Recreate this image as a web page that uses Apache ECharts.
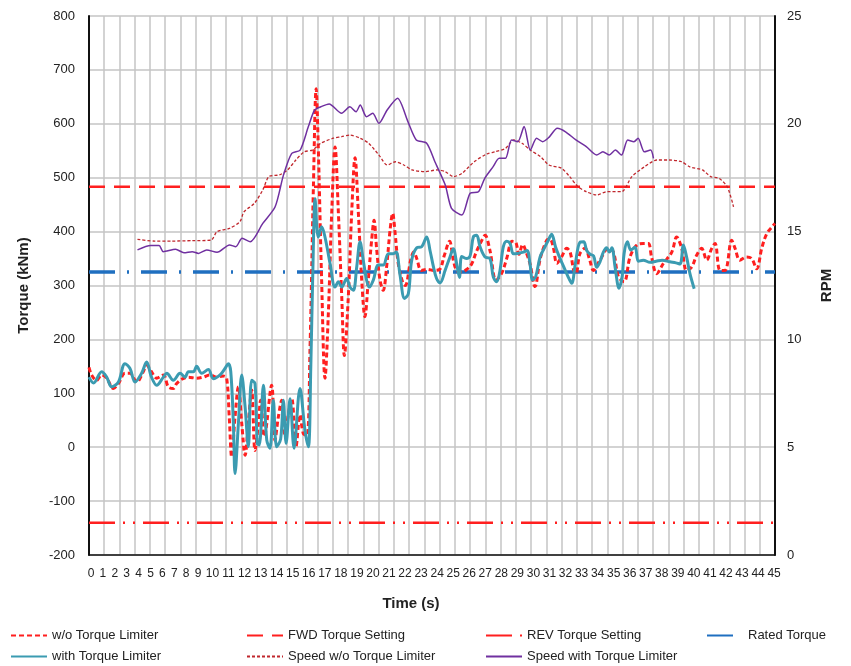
<!DOCTYPE html>
<html><head><meta charset="utf-8">
<script src="https://cdn.jsdelivr.net/npm/echarts@6/dist/echarts.min.js"></script>
<style>html,body{margin:0;padding:0;background:#fff}#c{width:851px;height:666px}</style>
</head><body><div id="c"></div>
<script>
// ---- data ----
const timeRange = [0, 45];
const fwdSetting = 483;
const revSetting = -140;
const ratedTorque = 325;

const woTime = [0,0.17,0.5,0.83,1.16,1.6,1.93,2.36,2.69,3.13,3.56,3.78,4.1,4.44,4.88,5.2,5.53,5.75,6.08,6.52,7.06,7.5,7.94,8.38,8.81,9.03,9.2,9.36,9.58,9.8,10.02,10.24,10.45,10.67,10.89,11.1,11.26,11.5,11.98,12.2,12.42,12.64,12.86,13.08,13.3,13.58,13.84,14.06,14.3,14.5,14.72,14.9,15.04,15.26,15.48,15.7,15.92,16.14,16.36,16.58,16.75,17.01,17.23,17.45,17.67,17.89,18.1,18.32,18.54,18.7,18.87,19.09,19.3,19.52,19.75,19.92,20.07,20.29,20.6,20.75,21.1,21.3,21.5,21.8,22.2,22.6,23.0,23.3,23.65,23.9,24.12,24.45,24.78,25.1,25.4,25.7,25.98,26.3,26.7,27.06,27.4,27.75,28.0,28.2,28.45,28.7,28.93,29.26,29.6,30.03,30.25,30.47,30.69,31.0,31.34,31.56,31.8,31.95,32.2,32.54,32.87,33.08,33.52,34.07,34.4,34.73,35.1,35.49,35.93,36.36,36.69,36.9,37.24,37.68,38.23,38.55,38.88,39.2,39.53,39.86,40.19,40.52,40.85,41.07,41.39,41.72,42.16,42.38,42.7,43.14,43.47,43.8,44.13,44.46,44.9,45];
const woTorque = [148,134,124,134,128,109,118,137,137,121,140,152,140,128,134,112,109,118,126,130,128,130,134,130,132,128,56,-18,56,112,44,-15,45,106,-6,40,87,20,115,13,56,87,19,62,90,1,60,25,22,186,483,665,557,310,128,248,434,557,434,279,170,279,434,537,434,310,242,310,384,421,367,310,291,334,403,434,400,340,304,300,347,362,350,328,330,328,330,355,382,347,328,325,330,340,362,380,393,365,310,322,350,382,380,358,376,360,340,298,350,384,386,369,341,353,369,362,328,322,359,369,345,328,347,369,362,316,307,353,375,378,378,353,322,341,362,390,369,328,334,356,369,347,369,378,328,328,384,369,347,353,350,331,369,396,412,415];

const withTime = [0,0.3,0.83,1.16,1.49,1.93,2.36,2.69,3.02,3.45,3.78,4.1,4.44,4.88,5.1,5.53,5.97,6.3,6.52,6.85,7.06,7.39,7.83,8.16,8.6,8.92,9.14,9.3,9.47,9.58,9.8,10.02,10.24,10.45,10.67,10.89,11.04,11.17,11.44,11.66,11.87,12.09,12.31,12.57,12.75,12.93,13.19,13.45,13.84,14.17,14.39,14.55,14.67,14.83,14.94,15.04,15.26,15.48,15.81,16.14,16.36,16.58,16.9,17.12,17.34,17.56,17.78,17.99,18.21,18.39,18.65,18.98,19.3,19.64,19.96,20.15,20.4,20.7,20.95,21.17,21.5,21.82,22.15,22.37,22.6,22.8,23.03,23.36,23.68,23.9,24.12,24.3,24.45,24.75,25.0,25.21,25.43,25.65,25.98,26.3,26.52,26.74,26.96,27.18,27.4,27.62,27.84,28.17,28.5,28.74,28.93,29.1,29.3,29.59,29.86,30.13,30.35,30.6,30.9,31.15,31.4,31.66,31.9,32.2,32.45,32.65,32.87,33.1,33.3,33.52,33.74,33.96,34.13,34.3,34.51,34.77,34.98,35.1,35.32,35.54,35.82,36.04,36.36,36.8,37.2,37.6,38.1,38.5,38.77,38.99,39.2,39.42,39.7];
const withTorque = [130,119,140,130,112,121,155,146,121,137,158,130,115,130,137,124,137,130,140,140,150,137,144,127,134,146,155,140,44,-49,44,134,75,1,124,118,7,4,115,13,-2,87,1,15,87,7,90,-2,109,31,1,150,310,461,409,390,409,390,341,297,307,297,313,297,291,334,381,347,310,297,310,338,338,359,359,362,320,276,285,347,370,372,390,365,334,313,305,328,353,368,340,315,354,350,355,390,393,372,353,350,316,307,328,372,382,378,359,360,362,365,340,310,316,353,369,384,395,372,350,334,318,304,340,380,381,365,358,355,334,344,362,370,362,370,334,295,318,359,381,366,371,345,347,343,345,347,344,342,340,375,353,322,294];

const speedWoTime = [3.18,4.32,5.41,6.77,8.0,8.4,9.22,9.9,10.17,10.85,11.4,11.8,12.49,13.03,13.57,14.12,14.66,15.2,16.02,16.57,17.11,17.79,18.34,19.02,19.56,20.1,20.65,21.19,22.01,22.83,23.37,23.91,24.46,25.27,26.09,26.63,27.32,27.86,28.4,28.95,29.63,30.17,30.99,31.53,32.08,32.62,33.3,33.98,34.93,35.61,36.43,37.25,38.06,38.88,39.42,40.24,40.78,41.33,41.87,42.28];
const speedWoRpm = [14.64,14.56,14.56,14.58,14.6,15.0,15.15,15.46,15.92,16.31,16.93,17.55,17.63,17.86,18.32,18.7,18.78,19.1,19.33,19.4,19.48,19.33,19.1,18.55,18.09,18.24,18.09,17.86,17.78,17.86,17.78,17.55,17.7,18.24,18.6,18.7,18.86,19.25,19.1,18.78,18.47,18.09,17.94,17.55,17.08,16.85,16.7,16.85,16.85,17.55,18.0,18.32,18.32,18.24,18.0,17.86,17.55,17.47,17.08,16.15];

const speedWithTime = [3.18,4.05,4.6,4.87,5.68,6.23,6.77,7.18,7.72,8.4,9.22,9.63,10.04,10.58,11.4,12.21,12.76,13.3,13.85,14.39,14.8,15.21,15.75,16.57,17.11,17.52,17.79,18.2,18.61,19.02,19.56,20.24,20.92,21.47,22.15,22.69,23.37,23.78,24.46,25.0,25.55,25.96,26.5,26.91,27.32,27.72,28.13,28.54,28.95,29.36,29.76,30.17,30.72,31.26,31.94,32.62,33.3,33.71,34.12,34.53,34.93,35.34,35.75,36.02,36.43,36.84,37.03];
const speedWithRpm = [14.15,14.35,14.35,14.07,14.18,14.02,14.07,13.99,14.15,14.04,14.38,14.3,14.69,14.53,15.38,16.15,17.63,18.63,18.78,19.87,20.64,20.79,20.92,20.49,20.79,20.56,20.87,20.33,20.49,20.02,20.64,21.18,20.1,19.25,19.1,18.24,17.16,16.08,15.77,16.78,16.85,17.47,18.0,18.4,18.4,19.25,19.17,19.87,18.78,19.33,19.17,19.37,19.79,19.63,19.25,18.94,18.55,18.7,18.55,18.78,18.55,19.25,19.17,19.33,18.7,18.78,18.4];

const leftTicks = {min: -200, max: 800, step: 100};
const rightTicks = {min: 0, max: 25, step: 5};
const timeTickStep = 1;

// ---- layout / style ----
const GRID = {left: 89, right: 76, top: 16, bottom: 111};
const PLOT_W = 851 - GRID.left - GRID.right;
const FONT = "'Liberation Sans', Arial, sans-serif";
const RED = '#ff1f1f';
const CLEAR = 'rgba(0,0,0,0)';

// In the reference the time labels are packed as a text run (narrow single digits,
// wider double digits) rather than sitting exactly under each grid line.
function packedCenter(k) {
  return k <= 9 ? GRID.left + 2 + 11.9 * k : GRID.left + 123.5 + (561.6 / 35) * (k - 10);
}
const xRich = {};
for (let k = timeRange[0]; k <= timeRange[1]; k += timeTickStep) {
  const d = packedCenter(k) - (GRID.left + PLOT_W * (k - timeRange[0]) / (timeRange[1] - timeRange[0]));
  xRich['k' + k] = {
    fontFamily: FONT, fontSize: 12, color: '#222',
    padding: d < 0 ? [0, -2 * d, 0, 0] : [0, 0, 0, 2 * d]
  };
}

const zip = (a, b) => a.map((t, i) => [t, b[i]]);
const flat = v => timeRange.map(t => [t, v]);

const chart = echarts.init(document.getElementById('c'), null, {renderer: 'canvas'});

function lg(name, left, top) {
  return {
    data: [name], left: left, top: top, itemWidth: 36, itemHeight: 12, itemGap: 4,
    textStyle: {fontFamily: FONT, fontSize: 13, color: '#222'},
    itemStyle: {borderWidth: 0},
    padding: 0
  };
}

function lineSeries(name, data, yIdx, color, width, type, smooth, z) {
  return {
    name: name, type: 'line', yAxisIndex: yIdx, data: data, z: z,
    symbol: 'circle', symbolSize: 0, showSymbol: false, smooth: smooth,
    lineStyle: {color: color, width: width, type: type},
    itemStyle: {color: CLEAR, borderWidth: 0},
    emphasis: {disabled: true}
  };
}

chart.setOption({
  animation: false,
  backgroundColor: '#fff',
  grid: {left: GRID.left, right: GRID.right, top: GRID.top, bottom: GRID.bottom, containLabel: false},
  legend: [
    lg('w/o Torque Limiter', 10, 629),
    lg('FWD Torque Setting', 246, 629),
    lg('REV Torque Setting', 485, 629),
    lg('Rated Torque', 706, 629),
    lg('with Torque Limiter', 10, 650),
    lg('Speed w/o Torque Limiter', 246, 650),
    lg('Speed with Torque Limiter', 485, 650)
  ],
  xAxis: {
    type: 'value', min: timeRange[0], max: timeRange[1], interval: timeTickStep,
    axisLine: {show: true, onZero: false, lineStyle: {color: '#111', width: 1.5}},
    axisTick: {show: false},
    axisLabel: {
      fontFamily: FONT, fontSize: 12, color: '#222', margin: 13,
      formatter: v => '{k' + v + '|' + v + '}', rich: xRich
    },
    splitLine: {show: true, lineStyle: {color: '#c4c4c4', width: 1.5}},
    name: 'Time (s)', nameLocation: 'middle', nameGap: 41,
    nameTextStyle: {fontFamily: FONT, fontWeight: 'bold', fontSize: 15, color: '#222', padding: [0, 42, 0, 0]}
  },
  yAxis: [{
    type: 'value', min: leftTicks.min, max: leftTicks.max, interval: leftTicks.step,
    axisLine: {show: true, lineStyle: {color: '#111', width: 2}},
    axisTick: {show: false},
    axisLabel: {fontFamily: FONT, fontSize: 13, color: '#222', margin: 14},
    splitLine: {show: true, lineStyle: {color: '#c4c4c4', width: 1.5}},
    name: 'Torque (kNm)', nameLocation: 'middle', nameRotate: 90, nameGap: 58,
    nameTextStyle: {fontFamily: FONT, fontWeight: 'bold', fontSize: 15, color: '#222'}
  }, {
    type: 'value', min: rightTicks.min, max: rightTicks.max, interval: rightTicks.step,
    position: 'right',
    axisLine: {show: true, lineStyle: {color: '#111', width: 2}},
    axisTick: {show: false},
    axisLabel: {fontFamily: FONT, fontSize: 13, color: '#222', margin: 12},
    splitLine: {show: false},
    name: 'RPM', nameLocation: 'middle', nameRotate: 90, nameGap: 44,
    nameTextStyle: {fontFamily: FONT, fontWeight: 'bold', fontSize: 15, color: '#222'}
  }],
  series: [
    lineSeries('w/o Torque Limiter', zip(woTime, woTorque), 0, RED, 3, [5, 3], 0.35, 3),
    lineSeries('FWD Torque Setting', flat(fwdSetting), 0, RED, 2.5, [16, 9], false, 2),
    lineSeries('REV Torque Setting', flat(revSetting), 0, RED, 2.5, [26, 8, 2, 8, 2, 8], false, 2),
    lineSeries('Rated Torque', flat(ratedTorque), 0, '#1f6fc0', 3.5, [26, 12, 2, 12], false, 2),
    lineSeries('with Torque Limiter', zip(withTime, withTorque), 0, '#3b9bb1', 3, 'solid', 0.35, 4),
    lineSeries('Speed w/o Torque Limiter', zip(speedWoTime, speedWoRpm), 1, '#c0272d', 1.3, [3, 2], 0.25, 5),
    lineSeries('Speed with Torque Limiter', zip(speedWithTime, speedWithRpm), 1, '#7030a0', 1.5, 'solid', 0.25, 6)
  ]
});
</script></body></html>
